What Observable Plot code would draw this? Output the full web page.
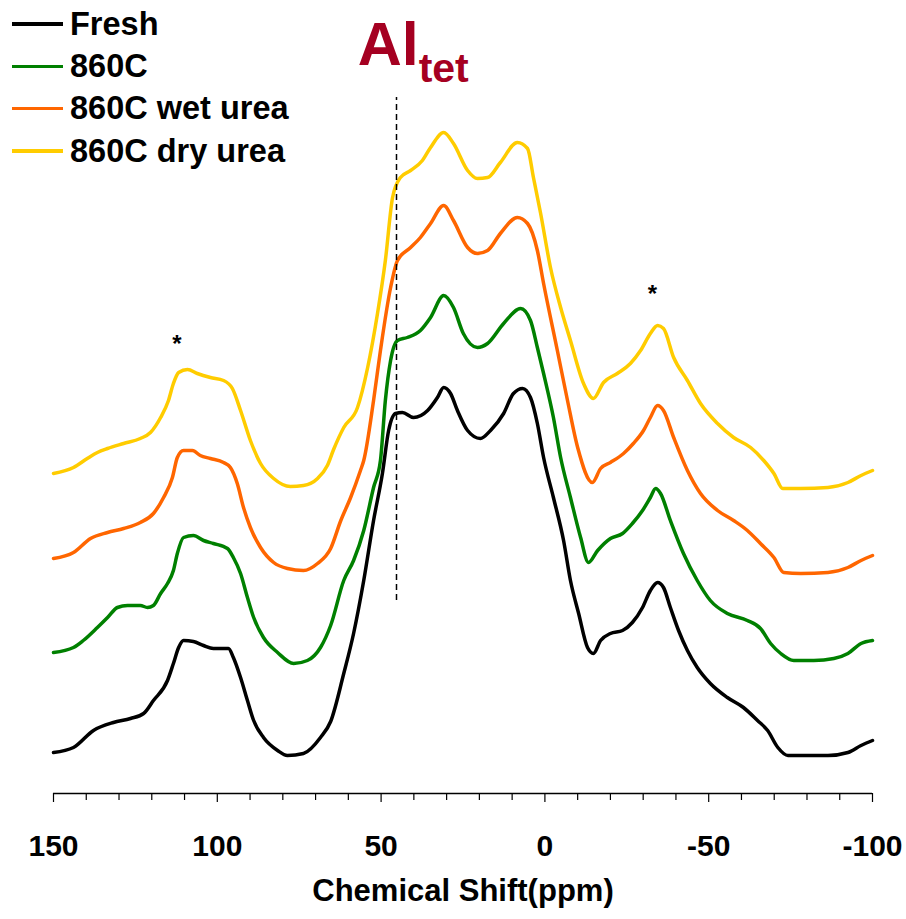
<!DOCTYPE html>
<html>
<head>
<meta charset="utf-8">
<script src="https://cdn.jsdelivr.net/npm/d3@7"></script>
<script src="https://cdn.jsdelivr.net/npm/@observablehq/plot@0.6"></script>
<style>
  html, body { margin: 0; padding: 0; background: #fff; }
  #wrap { position: relative; width: 906px; height: 919px; font-family: "Liberation Sans", Arial, sans-serif; }
  #legend { position: absolute; left: 12px; top: 3px; }
  .item { display: flex; align-items: center; height: 42.3px; }
  .swatch { width: 51px; height: 3.5px; margin-right: 7px; }
  .lab { font-weight: bold; font-size: 32.5px; color: #000; line-height: 1; }
</style>
</head>
<body>
<div id="wrap"></div>
<script>
// Series names and colours
const seriesNames = ["Fresh", "860C", "860C wet urea", "860C dry urea"];
const seriesColors = ["#000000", "#008000", "#FF6600", "#FFCC00"];

// Each series: [chemical shift (ppm), intensity (a.u., stacked offset included)]
const fresh = [
  [150,4.1],[143.9,4.6],[137.8,6.3],[131.7,7.1],[126.5,7.5],[122.5,8.0],[119.5,9.3],[115.2,11.3],[113.4,13.0],[111.8,14.6],
  [110.3,15.3],[107.3,15.2],[104.2,14.8],[101.2,14.5],[96.6,14.5],[95.1,13.6],[92.9,11.6],[90.8,9.3],[88.9,7.3],[85.9,5.6],
  [81.6,4.3],[78.6,3.8],[73.7,4.0],[68.5,5.6],[65.4,7.2],[61.4,12.0],[58.4,16.0],[55.3,21.3],[52.3,27.3],[49.6,32.0],
  [47.7,36.3],[45.6,38.0],[43.5,38.1],[40.1,37.6],[35.8,38.3],[32.8,39.6],[30.9,40.6],[28.8,40.0],[26.7,38.3],[23.6,36.3],
  [19.7,35.5],[16.6,36.3],[12.6,38.0],[9.6,40.0],[6.8,40.5],[4.4,39.6],[2.3,37.0],[0.4,33.6],[-2.6,29.6],[-5.7,25.3],
  [-7.8,21.3],[-10.3,18.0],[-13.0,14.6],[-14.8,14.0],[-17.0,15.3],[-20.0,16.0],[-23.7,16.3],[-26.7,17.1],[-29.8,18.6],[-32.2,20.3],
  [-34.4,21.1],[-36.2,20.6],[-38.3,18.6],[-40.8,16.3],[-43.5,14.3],[-46.5,12.6],[-50.5,11.0],[-55.7,9.6],[-60.6,8.6],[-64.9,7.3],
  [-68.0,6.3],[-71.1,4.6],[-74.2,3.8],[-78.1,3.8],[-86.4,3.8],[-92.5,4.1],[-96.5,4.8],[-100,5.3]
];
const calc860 = [
  [150,14.1],[143.9,14.6],[140.9,15.3],[136.6,16.6],[133.5,17.6],[130.5,18.6],[127.4,18.8],[123.5,18.8],[121.3,18.6],[119.5,18.8],
  [117.3,20.0],[115.2,21.0],[113.4,22.3],[112.2,24.0],[110.3,25.6],[107.3,25.8],[104.2,25.3],[101.2,25.0],[96.9,24.5],[95.1,23.6],
  [92.9,22.0],[90.8,19.6],[88.9,17.6],[85.9,15.6],[81.6,14.1],[76.7,13.0],[72.5,13.3],[68.5,14.6],[65.4,16.8],[61.4,21.3],
  [58.4,23.3],[55.3,26.3],[52.3,30.6],[50.2,33.3],[48.7,39.3],[47.1,43.3],[45.0,45.3],[42.0,45.6],[38.0,46.3],[34.9,47.6],
  [30.9,49.8],[27.9,48.6],[24.9,46.0],[20.6,44.6],[17.5,45.0],[12.6,47.0],[7.4,48.5],[4.4,47.3],[2.3,44.6],[0.4,42.0],
  [-2.6,37.6],[-4.8,33.6],[-7.8,29.6],[-10.9,25.6],[-13.3,23.1],[-16.1,24.3],[-20.0,25.5],[-23.7,26.0],[-26.7,27.0],[-29.8,28.3],
  [-32.2,29.6],[-33.8,30.5],[-35.3,30.0],[-38.3,27.3],[-42.3,24.0],[-46.5,21.3],[-50.5,19.3],[-55.7,18.0],[-61.8,17.3],[-65.8,16.5],
  [-68.9,15.0],[-72.0,14.0],[-76.0,13.3],[-82.1,13.3],[-88.2,13.5],[-92.5,14.0],[-96.5,15.0],[-100,15.3]
];
const wetUrea = [
  [150,23.5],[143.9,24.1],[138.7,25.5],[133.5,26.1],[128.6,26.5],[123.5,27.1],[119.5,28.0],[116.4,29.6],[113.7,31.6],[112.2,33.6],
  [110.3,34.3],[107.6,34.3],[105.2,33.8],[102.1,33.5],[98.1,33.1],[96.0,32.6],[93.9,31.0],[92.0,28.6],[89.9,26.6],[86.8,24.6],
  [82.8,23.1],[78.6,22.5],[73.7,22.3],[69.4,23.0],[65.4,24.5],[62.3,27.3],[59.3,29.6],[56.3,32.3],[55.3,33.3],[52.3,39.3],
  [50.2,44.3],[47.1,50.6],[45.0,53.3],[41.0,54.6],[38.0,55.6],[34.9,57.0],[30.9,58.8],[27.9,57.3],[23.6,54.6],[20.6,54.0],
  [17.5,54.3],[13.6,56.0],[8.4,57.6],[5.3,57.0],[2.3,54.3],[0.4,51.0],[-3.8,44.3],[-6.9,39.3],[-10.0,34.6],[-14.5,31.1],
  [-17.0,32.5],[-20.0,33.1],[-24.0,34.0],[-27.0,35.0],[-30.1,36.3],[-32.2,37.6],[-34.4,38.8],[-36.2,38.3],[-39.3,35.6],[-43.5,32.3],
  [-47.5,30.0],[-52.7,28.3],[-57.6,27.3],[-61.8,26.3],[-65.8,25.0],[-69.9,23.6],[-72.9,22.1],[-78.1,22.0],[-86.4,22.1],[-92.5,22.6],
  [-96.5,23.3],[-100,23.8]
];
const dryUrea = [
  [150,32.0],[143.9,32.6],[139.7,33.5],[136.6,34.1],[133.5,34.5],[128.6,35.0],[123.5,35.5],[120.4,36.1],[117.3,37.6],[114.9,39.3],
  [113.4,41.0],[111.8,42.1],[109.1,42.4],[106.1,42.0],[102.1,41.6],[98.1,41.3],[95.4,40.5],[92.9,38.3],[89.9,35.3],[86.8,33.0],
  [82.8,31.5],[77.7,30.7],[73.7,30.8],[69.4,31.5],[66.4,32.8],[64.5,34.4],[61.4,36.6],[57.2,38.6],[54.1,42.6],[51.1,48.0],
  [48.7,53.3],[46.5,59.6],[44.1,61.6],[41.0,62.3],[37.4,63.3],[34.9,64.6],[30.9,66.1],[27.9,65.0],[23.6,62.3],[20.6,61.5],
  [17.5,61.6],[13.6,63.1],[8.4,65.1],[5.3,64.5],[3.5,61.6],[1.3,58.0],[-1.7,52.6],[-4.8,48.6],[-7.8,45.3],[-11.8,41.0],
  [-14.8,39.5],[-17.9,41.1],[-22.1,42.0],[-26.1,43.0],[-29.2,44.3],[-32.2,46.0],[-34.4,46.8],[-36.2,46.5],[-39.3,43.6],[-43.5,41.3],
  [-47.5,39.0],[-52.7,37.0],[-57.6,35.6],[-62.8,34.6],[-66.8,33.3],[-69.9,32.0],[-72.6,30.5],[-78.1,30.5],[-86.4,30.6],[-92.5,31.1],
  [-96.5,31.8],[-100,32.3]
];

// Axis ticks
const majorTicks = [150, 100, 50, 0, -50, -100];
const minorTicks = [140, 130, 120, 110, 90, 80, 70, 60, 40, 30, 20, 10, -10, -20, -30, -40, -60, -70, -80, -90];
const xLabel = "Chemical Shift(ppm)";

// Annotations
const alTetShift = 45.3;          // dashed marker position (ppm)
const alTetSpan = [19.3, 69.6];   // intensity span of dashed marker
const asterisks = [{ppm: 112.3, y: 44.9}, {ppm: -32.8, y: 49.9}];
const alLabel = {ppm: 57, y: 72.8, main: "Al", sub: "tet"};

const allSeries = [fresh, calc860, wetUrea, dryUrea];
const rows = allSeries.flatMap((s, i) => s.map(([ppm, v]) => ({ppm, v, series: seriesNames[i]})));

const chart = Plot.plot({
  width: 906,
  height: 919,
  marginLeft: 53,
  marginRight: 34,
  marginTop: 93,
  marginBottom: 126,
  style: {fontFamily: "Liberation Sans, Arial, sans-serif", background: "#fff", overflow: "visible"},
  x: {domain: [150, -100], axis: null},
  y: {domain: [0, 70], axis: null},
  color: {domain: seriesNames, range: seriesColors},
  marks: [
    Plot.ruleY([0], {stroke: "#000", strokeWidth: 1.5}),
    Plot.axisX(minorTicks, {tickSize: 7, text: null, label: null, strokeWidth: 1.2}),
    Plot.axisX(majorTicks, {
      tickSize: 9, tickPadding: 32, strokeWidth: 1.2, label: null,
      tickFormat: d => String(d),
      fontSize: 30, fontWeight: "bold", fill: "#000"
    }),
    Plot.line(rows, {x: "ppm", y: "v", z: "series", stroke: "series", strokeWidth: 3.5, curve: "monotone-x"}),
    Plot.ruleX([alTetShift], {y1: alTetSpan[0], y2: alTetSpan[1], stroke: "#000", strokeWidth: 1.5, strokeDasharray: "6,4"}),
    Plot.text(asterisks, {x: "ppm", y: "y", text: d => "*", fontSize: 24, fontWeight: "bold", fill: "#000"}),
    Plot.text([xLabel], {frameAnchor: "bottom", dy: 107, text: d => d, fontSize: 31, fontWeight: "bold", fill: "#000"})
  ]
});

const wrap = document.getElementById("wrap");
wrap.appendChild(chart);

// Al_tet label with subscript
const sx = chart.scale("x"), sy = chart.scale("y");
const svg = d3.select(chart);
const t = svg.append("text")
  .attr("x", sx.apply(alLabel.ppm))
  .attr("y", sy.apply(alLabel.y))
  .attr("text-anchor", "start")
  .attr("fill", "#A50021")
  .attr("font-family", "Liberation Sans, Arial, sans-serif")
  .attr("font-weight", "bold");
t.append("tspan").attr("font-size", 61).text(alLabel.main);
t.append("tspan").attr("font-size", 41).attr("dy", 17).text(alLabel.sub);

// Legend
const legend = document.createElement("div");
legend.id = "legend";
seriesNames.forEach((n, i) => {
  const it = document.createElement("div");
  it.className = "item";
  const sw = document.createElement("div");
  sw.className = "swatch";
  sw.style.background = seriesColors[i];
  const lb = document.createElement("span");
  lb.className = "lab";
  lb.textContent = n;
  it.appendChild(sw); it.appendChild(lb);
  legend.appendChild(it);
});
wrap.appendChild(legend);
</script>
</body>
</html>
